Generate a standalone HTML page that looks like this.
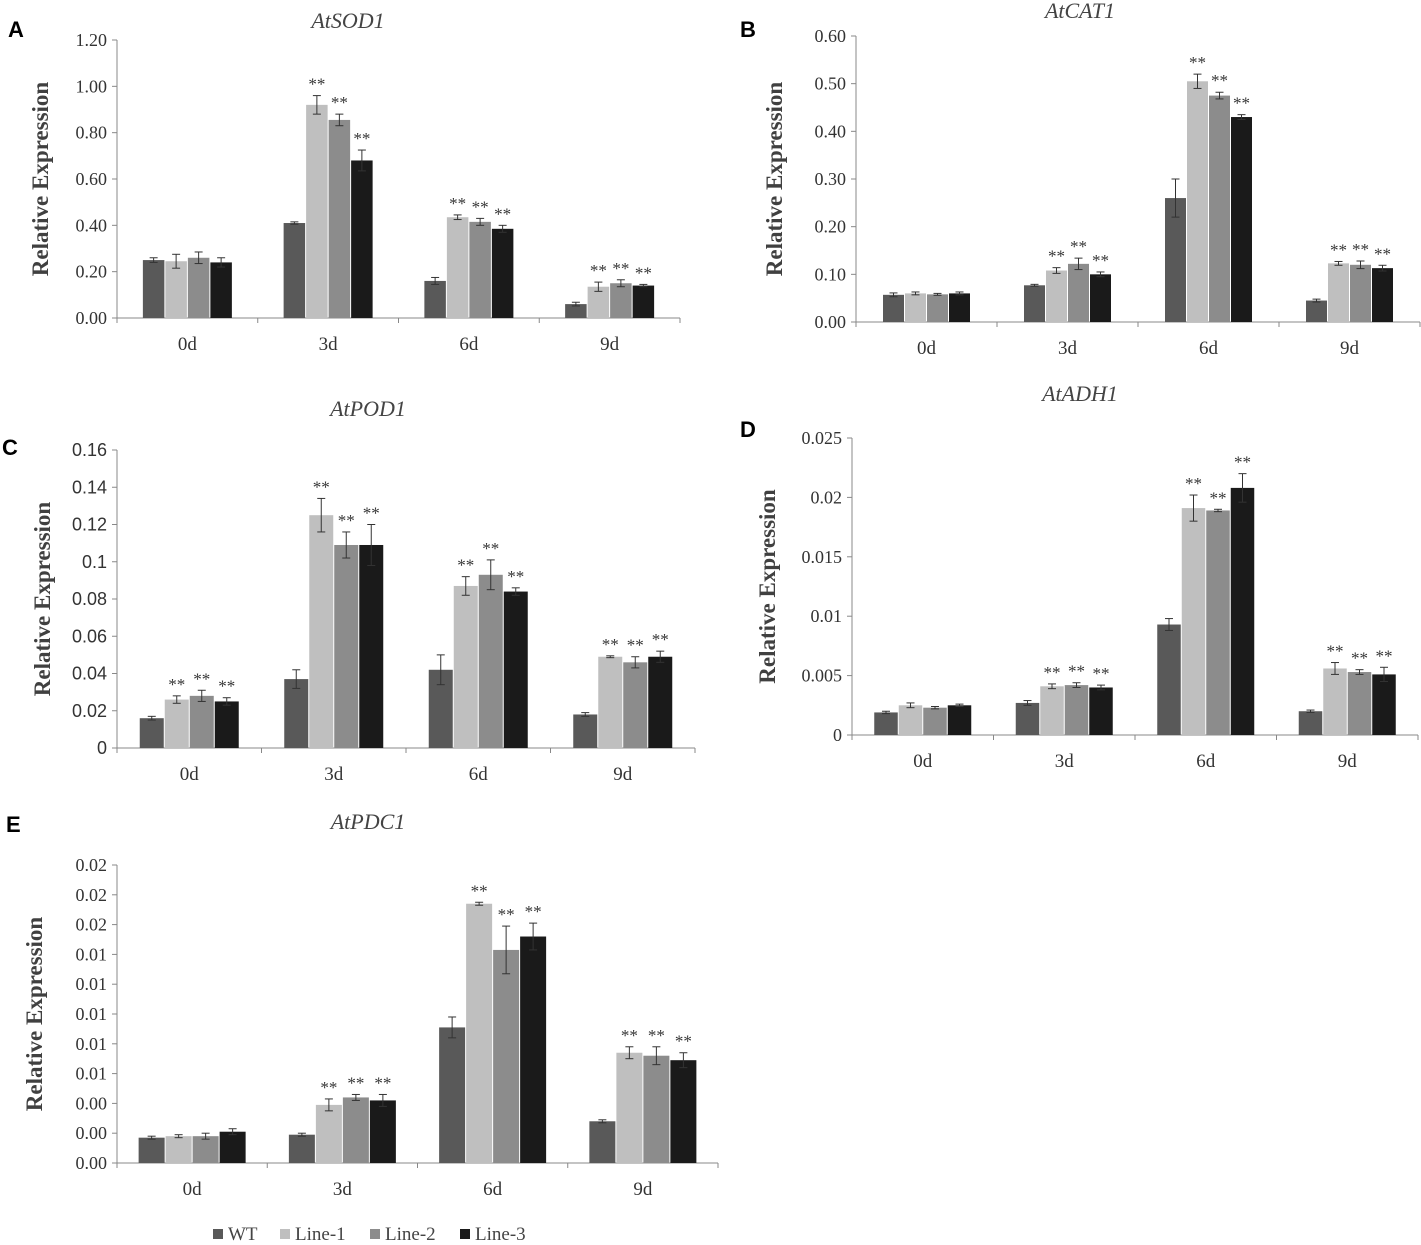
<!DOCTYPE html>
<html><head><meta charset="utf-8"><style>
html,body{margin:0;padding:0;background:#fff}
svg{display:block}
text{font-family:"Liberation Serif",serif}
</style></head><body>
<svg id="fig" width="1421" height="1245" viewBox="0 0 1421 1245"></svg>
<script>
const categories=["0d","3d","6d","9d"];
const seriesNames=["WT","Line-1","Line-2","Line-3"];
const colors=["#595959","#bfbfbf","#8c8c8c","#1a1a1a"];
// A AtSOD1
const sodValues=[[.25,.41,.16,.06],[.245,.92,.435,.135],[.26,.855,.415,.15],[.24,.68,.385,.14]];
const sodErr=[[.01,.005,.015,.008],[.03,.04,.01,.02],[.025,.025,.015,.015],[.02,.045,.015,.005]];
const sodStars=[[0,0,0,0],[0,1,1,1],[0,1,1,1],[0,1,1,1]];
const sodTicks=["0.00","0.20","0.40","0.60","0.80","1.00","1.20"];
// B AtCAT1
const catValues=[[.057,.077,.26,.045],[.06,.108,.505,.123],[.058,.122,.475,.12],[.06,.1,.43,.113]];
const catErr=[[.004,.002,.04,.003],[.003,.006,.015,.004],[.002,.012,.007,.008],[.003,.005,.005,.006]];
const catTicks=["0.00","0.10","0.20","0.30","0.40","0.50","0.60"];
// C AtPOD1
const podValues=[[.016,.037,.042,.018],[.026,.125,.087,.049],[.028,.109,.093,.046],[.025,.109,.084,.049]];
const podErr=[[.001,.005,.008,.001],[.002,.009,.005,.0005],[.003,.007,.008,.003],[.002,.011,.002,.003]];
const podTicks=["0","0.02","0.04","0.06","0.08","0.1","0.12","0.14","0.16"];
// D AtADH1
const adhValues=[[.0019,.0027,.0093,.002],[.0025,.0041,.0191,.0056],[.0023,.0042,.0189,.0053],[.0025,.004,.0208,.0051]];
const adhErr=[[.0001,.0002,.0005,.0001],[.0002,.0002,.0011,.0005],[.0001,.0002,.0001,.0002],[.0001,.0002,.0012,.0006]];
const adhTicks=["0","0.005","0.01","0.015","0.02","0.025"];
// E AtPDC1
const pdcValues=[[.0017,.0019,.0091,.0028],[.0018,.0039,.0174,.0074],[.0018,.0044,.0143,.0072],[.0021,.0042,.0152,.0069]];
const pdcErr=[[.0001,.0001,.0007,.0001],[.0001,.0004,.0001,.0004],[.0002,.0002,.0016,.0006],[.0002,.0004,.0009,.0005]];
const pdcTicks=["0.00","0.00","0.00","0.01","0.01","0.01","0.01","0.01","0.02","0.02","0.02"];
const starAll=[[0,0,0,0],[0,1,1,1],[0,1,1,1],[0,1,1,1]];
const starC=[[0,0,0,0],[1,1,1,1],[1,1,1,1],[1,1,1,1]];

const NS="http://www.w3.org/2000/svg";
const svg=document.getElementById('fig');
function mk(tag,attrs,parent,txt){const e=document.createElementNS(NS,tag);for(const k in attrs)e.setAttribute(k,attrs[k]);if(txt!==undefined)e.textContent=txt;(parent||svg).appendChild(e);return e;}

function panel(p){
  const g=mk('g',{});
  
  
  const y=v=>p.y0-(v/p.max)*(p.y0-p.yTop);
  const step=(p.x1-p.x0)/4;
  const cx=i=>p.x0+step*(i+0.5);
  const lt=mk('text',{x:p.letterX,y:p.letterY,'font-size':22,'font-weight':'bold',style:'font-family:"Liberation Sans",sans-serif'},g,p.id);
  
  
  const tt=mk('text',{x:p.titleX,y:p.titleY,'font-size':22,'font-style':'italic','text-anchor':'middle',fill:'#444'},g,p.title);
  
  
  const yt=mk('text',{transform:`translate(${p.yTitleX},${(p.y0+p.yTop)/2}) rotate(-90)`,'font-size':23,'font-weight':'bold','text-anchor':'middle',fill:'#404040'},g,'Relative Expression');
  
  
  mk('line',{x1:p.x0,y1:p.yTop,x2:p.x0,y2:p.y0,stroke:'#888','stroke-width':1},g);
  mk('line',{x1:p.x0,y1:p.y0,x2:p.x1,y2:p.y0,stroke:'#888','stroke-width':1},g);
  const n=p.ticks.length-1;
  p.ticks.forEach((t,i)=>{
    const v=p.max*i/n,yy=y(v);
    mk('line',{x1:p.x0-5,y1:yy,x2:p.x0,y2:yy,stroke:'#888'},g);
    const tx=mk('text',{x:p.x0-10,y:yy+6,'font-size':p.tickSize||18,'text-anchor':'end',fill:'#333',style:p.sans?'font-family:"Liberation Sans",sans-serif':''},g,t);
    
    
  });
  for(let i=0;i<=4;i++)mk('line',{x1:p.x0+step*i,y1:p.y0,x2:p.x0+step*i,y2:p.y0+5,stroke:'#888'},g);
  categories.forEach((c,i)=>{
    const tx=mk('text',{x:cx(i),y:p.y0+32,'font-size':19,'text-anchor':'middle',fill:'#333'},g,c);
    
    
  });
  const w=p.bw;
  for(let s=0;s<4;s++)for(let i=0;i<4;i++){
    const v=p.vals[s][i],e=p.err[s][i];
    const bx=cx(i)-2*w+s*w+0.5;
    const r=mk('rect',{x:bx,y:y(v),width:w-1,height:p.y0-y(v),fill:colors[s]},g);
    
    
    const mx=bx+(w-1)/2;
    mk('line',{x1:mx,y1:y(v+e),x2:mx,y2:y(v-e),stroke:'#333','stroke-width':1},g);
    mk('line',{x1:mx-4,y1:y(v+e),x2:mx+4,y2:y(v+e),stroke:'#333','stroke-width':1},g);
    mk('line',{x1:mx-4,y1:y(v-e),x2:mx+4,y2:y(v-e),stroke:'#333','stroke-width':1},g);
    if(p.stars[s][i]){
      const st=mk('text',{x:mx,y:y(v+e)-6,'font-size':17,'text-anchor':'middle',fill:'#333'},g,'**');
      
      
    }
  }
}
panel({id:'A',title:'AtSOD1',vals:sodValues,err:sodErr,stars:sodStars,ticks:sodTicks,max:1.2,x0:117,x1:680,y0:318,yTop:40,bw:22.5,letterX:8,letterY:37,titleX:348,titleY:28,yTitleX:48});
panel({id:'B',title:'AtCAT1',vals:catValues,err:catErr,stars:starAll,ticks:catTicks,max:0.6,x0:856,x1:1420,y0:322,yTop:36,bw:22,letterX:740,letterY:37,titleX:1080,titleY:18,yTitleX:782});
panel({id:'C',title:'AtPOD1',vals:podValues,err:podErr,stars:starC,ticks:podTicks,max:0.16,x0:117,x1:695,y0:748,yTop:450,bw:25,letterX:2,letterY:455,titleX:368,titleY:416,yTitleX:50,sans:true});
panel({id:'D',title:'AtADH1',vals:adhValues,err:adhErr,stars:starAll,ticks:adhTicks,max:0.025,x0:852,x1:1418,y0:735,yTop:438,bw:24.5,letterX:740,letterY:437,titleX:1080,titleY:401,yTitleX:775});
panel({id:'E',title:'AtPDC1',vals:pdcValues,err:pdcErr,stars:starAll,ticks:pdcTicks,max:0.02,x0:117,x1:718,y0:1163,yTop:865,bw:27,letterX:6,letterY:832,titleX:368,titleY:829,yTitleX:42});

const leg=mk('g',{});


const legX=[213,280,370,460];
seriesNames.forEach((nm,s)=>{
  const r=mk('rect',{x:legX[s],y:1229,width:10,height:10,fill:colors[s]},leg);
  
  
  const t=mk('text',{x:legX[s]+15,y:1240,'font-size':19,fill:'#444'},leg,nm);
  
  
});
</script>
</body></html>
